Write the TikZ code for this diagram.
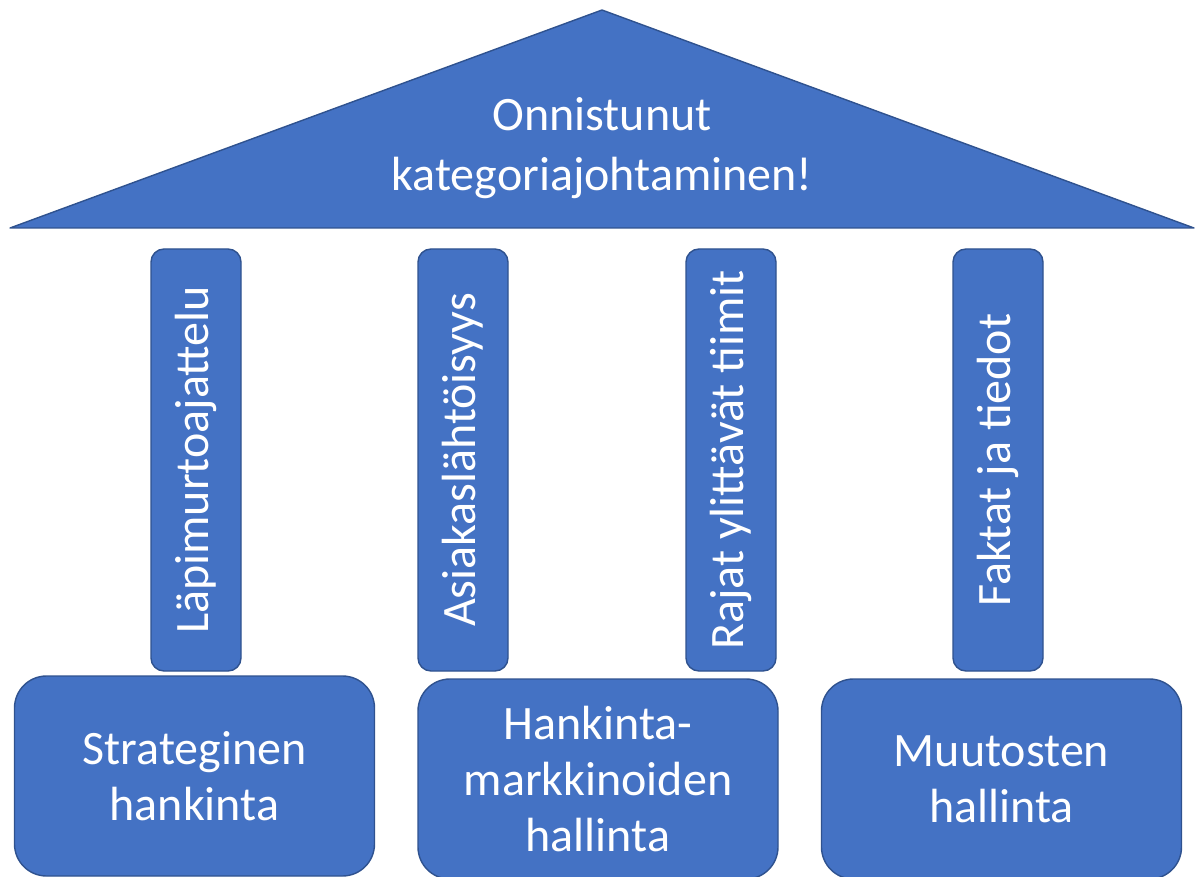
\documentclass[tikz,border=0pt]{standalone}
\usepackage{fontspec}
\setmainfont{Carlito}
\usepackage{graphicx}
\definecolor{roofblue}{HTML}{4472C4}
\definecolor{edgeblue}{HTML}{2F528F}

\begin{document}
\begin{tikzpicture}[x=1pt, y=-1pt,
  block/.style={draw=edgeblue, line width=1.4pt, fill=roofblue, text=white},
  pillar/.style={block, rounded corners=13pt, minimum width=90pt,
    minimum height=422pt, inner sep=0pt, font=\fontsize{48}{56}\selectfont},
  base/.style={block, rounded corners=32pt, minimum width=360pt,
    minimum height=200pt, align=center, font=\fontsize{48}{56}\selectfont}]
  \useasboundingbox (0,0) rectangle (1203,877);

  % katto
  \coordinate (Top) at (602,10);
  \coordinate (L) at (10,228);
  \coordinate (R) at (1194,228);
  \draw[block, line join=round] (L) -- (Top) -- (R) -- cycle;
  \node[text=white, align=center, font=\fontsize{48}{60}\selectfont] (roof)
    at (602,148) {Onnistunut\\kategoriajohtaminen!};

  % pilarit
  \node[pillar] (p1) at (196,460) {\rotatebox{90}{Läpimurtoajattelu}};
  \node[pillar] (p2) at (463,460) {\rotatebox{90}{Asiakaslähtöisyys}};
  \node[pillar] (p3) at (731,460) {\rotatebox{90}{Rajat ylittävät tiimit}};
  \node[pillar] (p4) at (998,460) {\rotatebox{90}{Faktat ja tiedot}};

  % perustus
  \node[base] (b1) at (194.5,776) {Strateginen\\hankinta};
  \node[base] (b2) at (598,779) {Hankinta-\\markkinoiden\\hallinta};
  \node[base] (b3) at (1001.5,779) {Muutosten\\hallinta};
\end{tikzpicture}
\end{document}
